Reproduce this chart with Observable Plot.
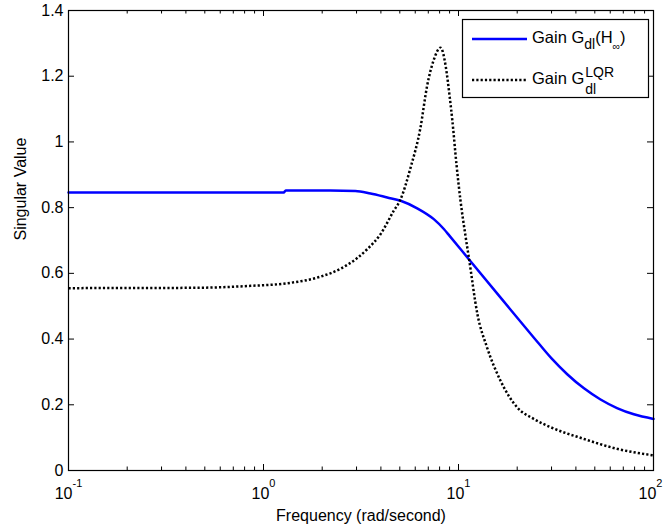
<!DOCTYPE html>
<html><head><meta charset="utf-8">
<script src="https://cdn.jsdelivr.net/npm/d3@7"></script>
<script src="https://cdn.jsdelivr.net/npm/@observablehq/plot@0.6"></script>
<style>
body{margin:0;background:#fff;}
#chart svg{display:block;}
</style>
</head><body><div id="chart"></div>
<script>
// ---- data ----
const hinfFreq = [0.1, 0.3, 0.76, 1.27, 1.3, 2.2, 2.96, 3.54, 4.31, 5.05, 6.14, 7.47, 8.41, 9.0, 11.3, 16.4, 24.3, 30, 36.1, 44, 53.5, 65, 79.3, 100];
const hinfGain = [0.846, 0.846, 0.846, 0.846, 0.852, 0.852, 0.851, 0.843, 0.831, 0.821, 0.798, 0.765, 0.735, 0.714, 0.643, 0.527, 0.405, 0.341, 0.293, 0.25, 0.216, 0.19, 0.171, 0.157];
const lqrFreq = [0.1, 0.44, 0.86, 1.33, 1.96, 2.5, 3.0, 3.41, 3.98, 4.65, 5.05, 5.68, 6.38, 6.9, 7.47, 8.09, 8.6, 9.0, 9.3, 9.77, 10.24, 10.86, 11.3, 12.5, 14.0, 16.4, 20, 24.3, 29.6, 44, 65, 100];
const lqrGain = [0.555, 0.556, 0.562, 0.57, 0.59, 0.615, 0.645, 0.674, 0.719, 0.79, 0.826, 0.922, 1.043, 1.17, 1.25, 1.287, 1.23, 1.14, 1.065, 0.93, 0.821, 0.714, 0.648, 0.476, 0.375, 0.274, 0.192, 0.157, 0.132, 0.096, 0.066, 0.046];

const xMajorTicks = [0.1, 1, 10, 100];
const xMajorBase = ["10", "10", "10", "10"];
const xMajorExp = ["-1", "0", "1", "2"];
const xMinorTicks = [0.2, 0.3, 0.4, 0.5, 0.6, 0.7, 0.8, 0.9, 2, 3, 4, 5, 6, 7, 8, 9, 20, 30, 40, 50, 60, 70, 80, 90];
const yTicks = [0, 0.2, 0.4, 0.6, 0.8, 1, 1.2, 1.4];
const yTickLabels = ["0", "0.2", "0.4", "0.6", "0.8", "1", "1.2", "1.4"];
const xLabel = "Frequency (rad/second)";
const yLabel = "Singular Value";
// legend parts: [text, role]  role: n = normal, sub, subs (small subscript)
const legendHinf = [["Gain G", "n"], ["dl", "sub"], ["(H", "n"], ["\u221E", "subs"], [")", "n"]];
const legendLqrMain = "Gain G";
const legendLqrSup = "LQR";
const legendLqrSub = "dl";

// ---- layout ----
const W = 663, H = 531, mL = 68, mR = 10, mT = 10, mB = 61;
const plotW = W - mL - mR, plotH = H - mT - mB;
const FONT = "'Liberation Sans', Arial, Helvetica, sans-serif";
const DASH = "2.2,2.1";

const hinf = hinfFreq.map((f, i) => ({f, g: hinfGain[i]}));
const lqr = lqrFreq.map((f, i) => ({f, g: lqrGain[i]}));

const chart = Plot.plot({
  width: W, height: H,
  marginLeft: mL, marginRight: mR, marginTop: mT, marginBottom: mB,
  style: {fontFamily: FONT, fontSize: "16px", color: "black", background: "white"},
  x: {type: "log", domain: [0.1, 100]},
  y: {domain: [0, 1.4]},
  marks: [
    Plot.line(hinf, {x: "f", y: "g", stroke: "#0000ff", strokeWidth: 2.5, curve: "monotone-x"}),
    Plot.line(lqr, {x: "f", y: "g", stroke: "black", strokeWidth: 2.5, strokeDasharray: DASH,
      strokeLinecap: "butt", strokeLinejoin: "miter", curve: "monotone-x"}),
    Plot.tickX(xMajorTicks, {x: d => d, insetTop: plotH - 6, stroke: "black"}),
    Plot.tickX(xMajorTicks, {x: d => d, insetBottom: plotH - 6, stroke: "black"}),
    Plot.tickX(xMinorTicks, {x: d => d, insetTop: plotH - 3.5, stroke: "black"}),
    Plot.tickX(xMinorTicks, {x: d => d, insetBottom: plotH - 3.5, stroke: "black"}),
    Plot.tickY(yTicks, {y: d => d, insetRight: plotW - 6, stroke: "black"}),
    Plot.tickY(yTicks, {y: d => d, insetLeft: plotW - 6, stroke: "black"}),
    Plot.axisX(xMajorTicks, {anchor: "bottom", tickSize: 0, tickPadding: 17, label: null,
      tickFormat: d => xMajorBase[xMajorTicks.indexOf(d)], fontSize: 16}),
    Plot.axisY(yTicks, {anchor: "left", tickSize: 0, tickPadding: 5, label: null,
      tickFormat: d => yTickLabels[yTicks.indexOf(d)], fontSize: 16}),
    Plot.text([xLabel], {text: d => d, frameAnchor: "bottom", dy: 45, lineAnchor: "middle", fontSize: 16, fill: "black"}),
    Plot.text([yLabel], {text: d => d, frameAnchor: "left", dx: -48, rotate: -90, lineAnchor: "middle", fontSize: 16, fill: "black"}),
    Plot.frame({stroke: "black", strokeWidth: 1.2})
  ]
});
document.getElementById("chart").appendChild(chart);

// superscript exponents on x tick labels
const xLabelTexts = chart.querySelectorAll('[aria-label="x-axis tick label"] text');
xLabelTexts.forEach((t, i) => {
  const base = t.textContent;
  t.textContent = "";
  const s = d3.select(t);
  s.append("tspan").text(base);
  s.append("tspan").attr("dy", -12).attr("font-size", 11).text(xMajorExp[i]);
  if (i === xLabelTexts.length - 1) s.attr("dx", -3);
});

// legend
const svg = d3.select(chart);
const lg = svg.append("g").attr("font-family", FONT).attr("font-size", 16.5)
  .attr("fill", "black").attr("text-anchor", "start");
lg.append("rect").attr("x", 462.5).attr("y", 19.5).attr("width", 186).attr("height", 78)
  .attr("fill", "white").attr("stroke", "black").attr("stroke-width", 1.2);
lg.append("line").attr("x1", 472).attr("x2", 527).attr("y1", 39).attr("y2", 39)
  .attr("stroke", "#0000ff").attr("stroke-width", 2.5);
lg.append("line").attr("x1", 472).attr("x2", 527).attr("y1", 80).attr("y2", 80)
  .attr("stroke", "black").attr("stroke-width", 2.5).attr("stroke-dasharray", DASH);
const t1 = lg.append("text").attr("x", 532).attr("y", 43);
let cur = 0;
legendHinf.forEach(([txt, role]) => {
  const target = role === "sub" ? 6 : role === "subs" ? 7 : 0;
  const ts = t1.append("tspan").attr("dy", target - cur).text(txt);
  if (role === "sub") ts.attr("font-size", 14);
  if (role === "subs") ts.attr("font-size", 10.5);
  cur = target;
});
const t2 = lg.append("text").attr("x", 532).attr("y", 84).text(legendLqrMain);
const w2 = t2.node().getComputedTextLength();
lg.append("text").attr("x", 532 + w2 + 1).attr("y", 77).attr("font-size", 14).text(legendLqrSup);
lg.append("text").attr("x", 532 + w2 + 1).attr("y", 93.5).attr("font-size", 14).text(legendLqrSub);
</script>
</body></html>
